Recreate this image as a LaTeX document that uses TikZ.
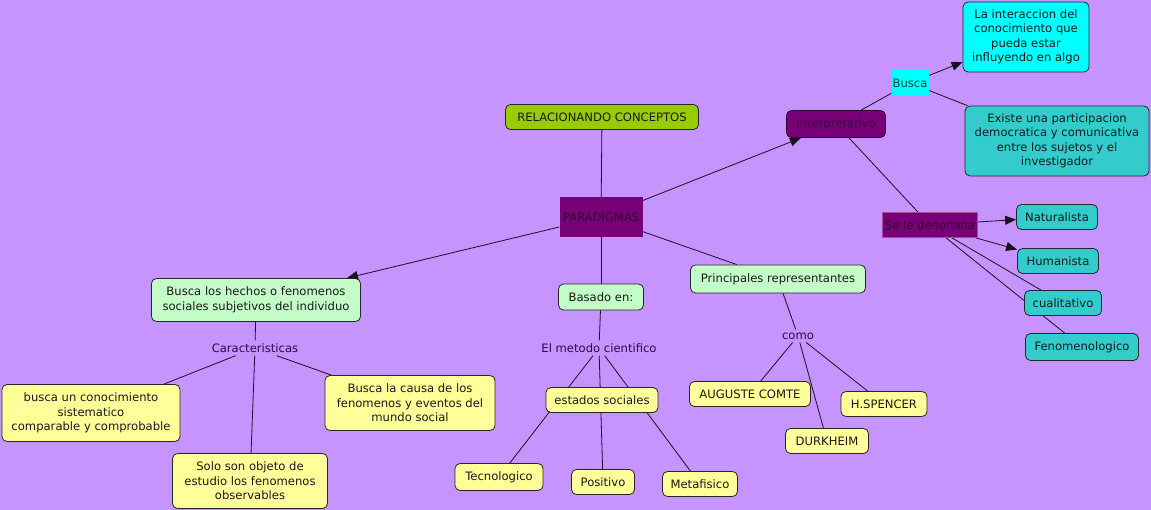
\documentclass[tikz,border=0pt]{standalone}
\usepackage{fontspec}
\setmainfont{DejaVu Sans}
\usetikzlibrary{arrows.meta}
\pgfdeclarelayer{bg}
\pgfsetlayers{bg,main}
\definecolor{bgc}{HTML}{C594FF}
\definecolor{olive}{HTML}{99CC00}
\definecolor{purp}{HTML}{770077}
\definecolor{purptxt}{HTML}{330033}
\definecolor{cyanc}{HTML}{00FFFF}
\definecolor{tealc}{HTML}{33CCCC}
\definecolor{lgreen}{HTML}{C4FCC8}
\definecolor{yel}{HTML}{FFFF99}
\definecolor{lbltxt}{HTML}{2A0A4A}
\definecolor{linec}{HTML}{1A1020}
\tikzset{
  every node/.style={font=\fontsize{11.6}{14.5}\selectfont, inner sep=0pt, align=center, text=black!90},
  cbox/.style={draw=black!85, rounded corners=5pt, line width=0.8pt},
  ybox/.style={cbox, fill=yel},
  gbox/.style={cbox, fill=lgreen},
  tbox/.style={cbox, fill=tealc},
  pbox/.style={fill=purp, text=purptxt},
  lbl/.style={text=lbltxt, inner sep=3pt},
  conn/.style={draw=linec, line width=0.8pt},
  arr/.style={conn, -{Triangle[length=11pt,width=9pt]}},
}
\begin{document}
\begin{tikzpicture}[x=1pt,y=-1pt]
\useasboundingbox (0,0) rectangle (1151,510);
% nodes
\node[cbox, fill=olive, minimum width=193, minimum height=25] (rc) at (602,117) {RELACIONANDO CONCEPTOS};
\node[pbox, minimum width=83, minimum height=40] (par) at (601,217) {PARADIGMAS};
\node[cbox, fill=purp, draw=purptxt, text=purptxt!80!purp, minimum width=99, minimum height=27] (int) at (836,124) {Interpretativo};
\node[fill=cyanc, text=black!75!cyanc, minimum width=37, minimum height=25] (busca) at (910,83) {Busca};
\node[cbox, fill=cyanc, minimum width=126, minimum height=70] (inter) at (1026,37) {La interaccion del\\conocimiento que\\pueda estar\\influyendo en algo};
\node[tbox, minimum width=184, minimum height=70] (exis) at (1057,141) {Existe una participacion\\democratica y comunicativa\\entre los sujetos y el\\investigador};
\node[pbox, draw=purp!70!white, line width=0.6pt, minimum width=95, minimum height=25] (sele) at (930,225) {Se le denomina};
\node[tbox, minimum width=81, minimum height=25] (nat) at (1057,217) {Naturalista};
\node[tbox, minimum width=81, minimum height=25] (hum) at (1058,261) {Humanista};
\node[tbox, minimum width=77, minimum height=25] (cual) at (1063,303) {cualitativo};
\node[tbox, minimum width=113, minimum height=27] (fen) at (1082,347) {Fenomenologico};
\node[gbox, minimum width=209, minimum height=43] (hech) at (256,300) {Busca los hechos o fenomenos\\sociales subjetivos del individuo};
\node[lbl] (car) at (255,348) {Caracteristicas};
\node[ybox, minimum width=178, minimum height=57] (sist) at (91,413) {busca un conocimiento\\sistematico\\comparable y comprobable};
\node[ybox, minimum width=170, minimum height=55] (causa) at (410,403) {Busca la causa de los\\fenomenos y eventos del\\mundo social};
\node[ybox, minimum width=155, minimum height=55] (solo) at (250,481) {Solo son objeto de\\estudio los fenomenos\\observables};
\node[gbox, minimum width=85, minimum height=26] (bas) at (601,297) {Basado en:};
\node[lbl] (met) at (599,348) {El metodo cientifico};
\node[ybox, minimum width=112, minimum height=25] (est) at (602,400) {estados sociales};
\node[ybox, minimum width=88, minimum height=27] (tec) at (499,477) {Tecnologico};
\node[ybox, minimum width=63, minimum height=25] (pos) at (603,482) {Positivo};
\node[ybox, minimum width=75, minimum height=25] (metaf) at (700,484) {Metafisico};
\node[gbox, minimum width=175, minimum height=28] (prin) at (778,279) {Principales representantes};
\node[lbl] (como) at (798,336) {como};
\node[ybox, minimum width=121, minimum height=25] (comte) at (750,394) {AUGUSTE COMTE};
\node[ybox, minimum width=86, minimum height=25] (spen) at (884,404) {H.SPENCER};
\node[ybox, minimum width=83, minimum height=25] (durk) at (827,441) {DURKHEIM};
% connectors
\begin{pgfonlayer}{bg}
\fill[bgc] (0,0) rectangle (1151,510);
\draw[conn] (rc) -- (par);
\draw[arr] (par) -- (int);
\draw[arr] (par) -- (hech);
\draw[conn] (par) -- (bas);
\draw[conn] (par) -- (prin);
\draw[conn] (int) -- (busca);
\draw[arr] (busca) -- (inter);
\draw[conn] (busca) -- (exis);
\draw[conn] (int) -- (sele);
\draw[arr] (sele) -- (nat);
\draw[arr] (sele) -- (hum);
\draw[conn] (sele) -- (cual);
\draw[conn] (sele) -- (fen);
\draw[conn] (hech) -- (car);
\draw[conn] (car) -- (sist);
\draw[conn] (car) -- (causa);
\draw[conn] (car) -- (solo);
\draw[conn] (bas) -- (met);
\draw[conn] (met) -- (tec);
\draw[conn] (met) -- (pos);
\draw[conn] (met) -- (metaf);
\draw[conn] (prin) -- (como);
\draw[conn] (como) -- (comte);
\draw[conn] (como) -- (spen);
\draw[conn] (como) -- (durk);
\end{pgfonlayer}
\end{tikzpicture}
\end{document}
